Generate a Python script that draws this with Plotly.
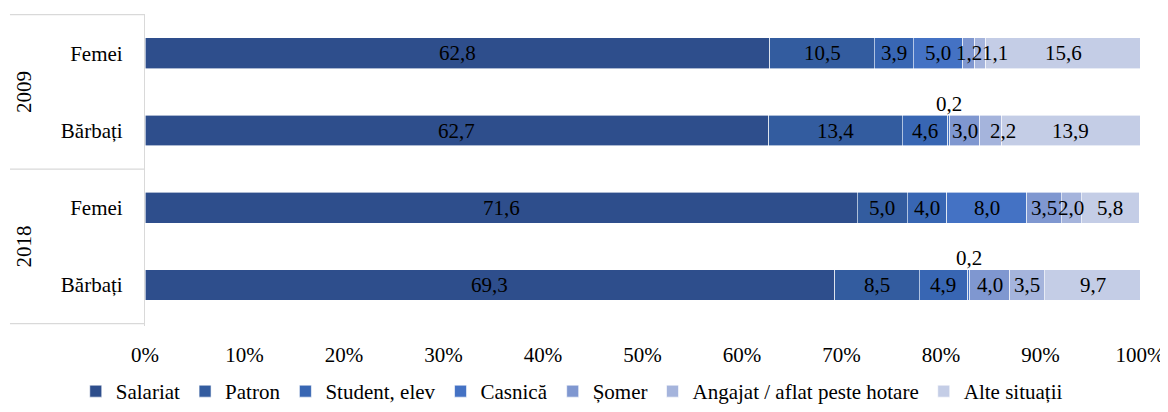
import plotly.graph_objects as go

years = ["2009", "2009", "2018", "2018"]
groups = ["Femei", "Bărbați", "Femei", "Bărbați"]
cat_ids = [f"{y}|{g}" for y, g in zip(years, groups)]

series_names = ["Salariat", "Patron", "Student, elev", "Casnică", "Șomer",
                "Angajat / aflat peste hotare", "Alte situații"]
salariat = [62.8, 62.7, 71.6, 69.3]
patron = [10.5, 13.4, 5.0, 8.5]
student = [3.9, 4.6, 4.0, 4.9]
casnica = [5.0, 0.2, 8.0, 0.2]
somer = [1.2, 3.0, 3.5, 4.0]
angajat = [1.1, 2.2, 2.0, 3.5]
alte = [15.6, 13.9, 5.8, 9.7]
series_values = [salariat, patron, student, casnica, somer, angajat, alte]
colors = ["#2E4E8C", "#335C9F", "#3866B3", "#4472C4", "#7F97D0", "#A5B4DC", "#C4CDE6"]
x_ticks = list(range(0, 101, 10))
x_ticklabels = [f"{t}%" for t in x_ticks]

FONT = "Liberation Serif"
FS = 21
SMALL = 0.5  # values below this get their label above the bar
# label nudges (pixels) for crowded labels: (series index, row index) -> xshift
NUDGE = {(5, 0): 15, (5, 1): 12}

fig = go.Figure()
annotations = []
cum = [0.0] * 4
for s, (name, vals, col) in enumerate(zip(series_names, series_values, colors)):
    for i, v in enumerate(vals):
        lab = f"{v:.1f}".replace(".", ",")
        annotations.append(dict(
            x=cum[i] + v / 2, y=cat_ids[i], xref="x", yref="y",
            text=lab, showarrow=False,
            yshift=27 if v < SMALL else 0,
            xshift=NUDGE.get((s, i), 0),
            font=dict(family=FONT, size=FS, color="black")))
        cum[i] += v
    fig.add_trace(go.Bar(
        name=name, y=cat_ids, x=vals, orientation="h",
        marker=dict(color=col, line=dict(color="white", width=0.6)),
        hoverinfo="skip",
    ))

# year group labels
for yr, mid in [("2009", 0.5), ("2018", 2.5)]:
    annotations.append(dict(
        x=-0.1216, y=mid, xref="paper", yref="y", text=yr, textangle=-90,
        xanchor="center", yanchor="middle",
        showarrow=False, font=dict(family=FONT, size=FS, color="black")))

shapes = []
for yb in [-0.5, 1.5, 3.5]:
    shapes.append(dict(type="line", xref="paper", yref="y", x0=-0.1357, x1=0,
                       y0=yb, y1=yb, line=dict(color="#D9D9D9", width=1.3)))

# the page body adds an 8px offset, so the figure is sized/margined accordingly
fig.update_layout(
    barmode="stack", bargap=0.6,
    width=1160, height=404,
    margin=dict(l=137, r=28, t=6, b=86, autoexpand=False),
    paper_bgcolor="white", plot_bgcolor="white",
    font=dict(family=FONT, size=FS, color="black"),
    annotations=annotations, shapes=shapes,
    legend=dict(orientation="h", xref="container", x=0.486, xanchor="center",
                yref="container", y=0.0, yanchor="bottom",
                font=dict(family=FONT, size=FS, color="black"),
                traceorder="normal", itemwidth=30),
)
fig.update_xaxes(range=[0, 100], tickvals=x_ticks, ticktext=x_ticklabels,
                 showgrid=False, zeroline=False, showline=False, automargin=False,
                 ticklabelstandoff=14, tickfont=dict(family=FONT, size=FS))
fig.update_yaxes(type="category", categoryorder="array", categoryarray=cat_ids,
                 autorange="reversed", tickvals=cat_ids, ticktext=groups,
                 showline=True, linecolor="#D9D9D9", linewidth=1.3, automargin=False,
                 showgrid=False, ticks="", ticklabelstandoff=17,
                 tickfont=dict(family=FONT, size=FS))

fig.write_html("out.html")
